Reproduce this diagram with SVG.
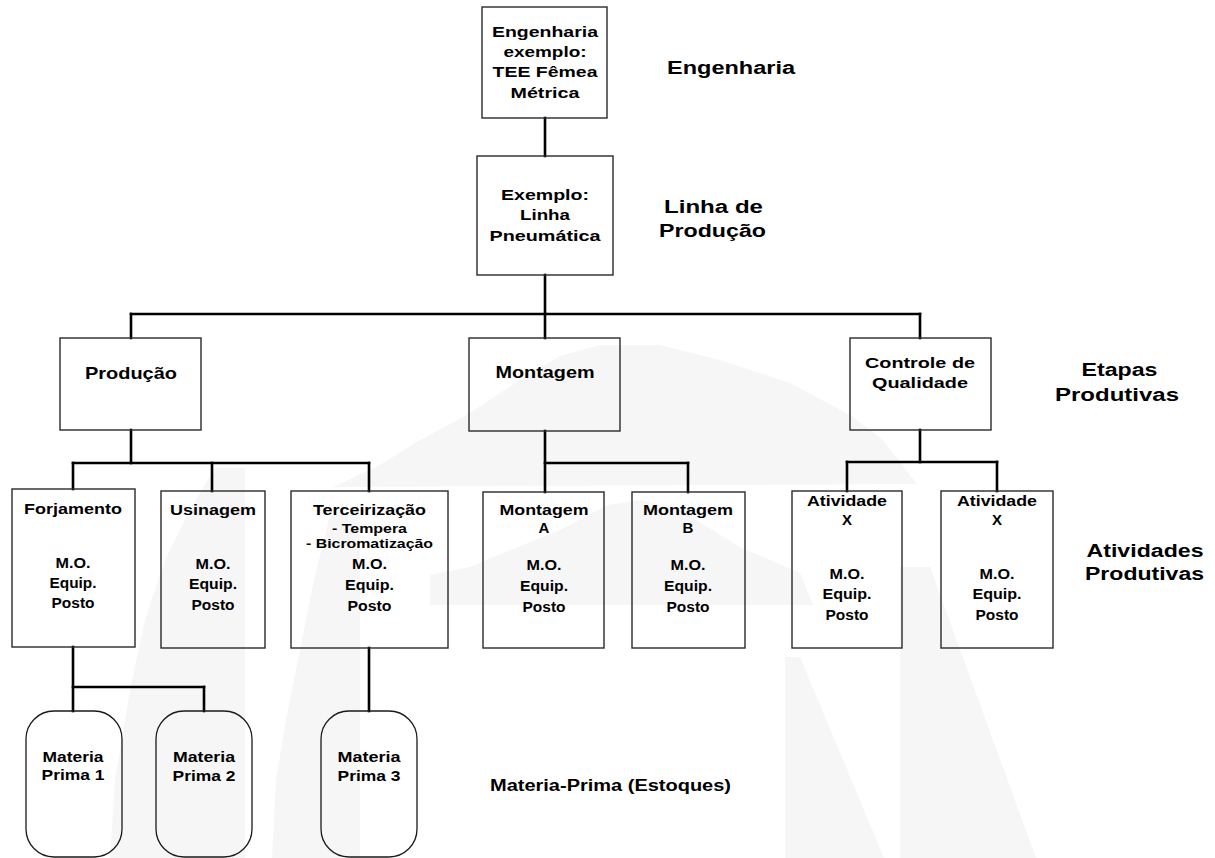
<svg xmlns="http://www.w3.org/2000/svg" width="1215" height="858" viewBox="0 0 1215 858">
<style>
.bg{fill:#ffffff}
.wm{fill:#f6f6f7;stroke:none}
.box{fill:none;stroke:#2a2a2a;stroke-width:1.4}
.tank{fill:none;stroke:#1a1a1a;stroke-width:1.3}
.conn{fill:none;stroke:#000000;stroke-width:2.6;stroke-linecap:square}
text{font-family:"Liberation Sans",Arial,sans-serif;font-weight:bold;fill:#000000;text-anchor:middle}
.t15{font-size:15px}
.t14{font-size:14px}
.t13{font-size:13.5px}
.t17{font-size:17px}
.lab{font-size:18px}
</style>
<rect class="bg" x="0" y="0" width="1215" height="858"/>
<g id="watermark">
<polygon class="wm" points="333,487 380,465 420,440 467,415 520,380 560,356 600,345 660,345 720,360 790,383 850,415 883,440 917,484 917,484 333,487"/>
<polygon class="wm" points="430,605 430,575 470,567 503,553 560,530 607,505 640,500 680,510 740,547 800,573 813,605"/>
<polygon class="wm" points="245,468 215,468 190,510 165,560 145,620 130,690 115,780 110,858 245,858"/>
<polygon class="wm" points="330,515 360,515 360,858 272,858 276,780 286,720 300,650 314,580"/>
<polygon class="wm" points="785,657 800,657 884,858 785,858"/>
<polygon class="wm" points="900,567 930,567 1036,858 900,858"/>
</g>
<g id="connectors">
<line class="conn" x1="545" y1="118" x2="545" y2="156"/>
<line class="conn" x1="545" y1="275" x2="545" y2="314"/>
<line class="conn" x1="131" y1="314" x2="920" y2="314"/>
<line class="conn" x1="131" y1="314" x2="131" y2="338"/>
<line class="conn" x1="545" y1="314" x2="545" y2="338"/>
<line class="conn" x1="920" y1="314" x2="920" y2="338"/>
<line class="conn" x1="131" y1="430" x2="131" y2="463"/>
<line class="conn" x1="73" y1="463" x2="369" y2="463"/>
<line class="conn" x1="73" y1="463" x2="73" y2="489"/>
<line class="conn" x1="212" y1="463" x2="212" y2="491"/>
<line class="conn" x1="369" y1="463" x2="369" y2="491"/>
<line class="conn" x1="545" y1="431" x2="545" y2="492"/>
<line class="conn" x1="545" y1="463" x2="688" y2="463"/>
<line class="conn" x1="688" y1="463" x2="688" y2="492"/>
<line class="conn" x1="920" y1="430" x2="920" y2="462"/>
<line class="conn" x1="847" y1="462" x2="997" y2="462"/>
<line class="conn" x1="847" y1="462" x2="847" y2="491"/>
<line class="conn" x1="997" y1="462" x2="997" y2="491"/>
<line class="conn" x1="73" y1="647" x2="73" y2="711"/>
<line class="conn" x1="73" y1="687" x2="204" y2="687"/>
<line class="conn" x1="204" y1="687" x2="204" y2="711"/>
<line class="conn" x1="369" y1="648" x2="369" y2="711"/>
</g>
<g id="engenharia">
<rect class="box" x="482" y="7" width="125" height="111"/>
<text class="t15" x="545" y="37" textLength="106" lengthAdjust="spacingAndGlyphs">Engenharia</text>
<text class="t15" x="545" y="57" textLength="83" lengthAdjust="spacingAndGlyphs">exemplo:</text>
<text class="t15" x="545" y="77" textLength="105" lengthAdjust="spacingAndGlyphs">TEE Fêmea</text>
<text class="t15" x="545" y="98" textLength="69" lengthAdjust="spacingAndGlyphs">Métrica</text>
</g>
<g id="linha">
<rect class="box" x="477" y="156" width="136" height="119"/>
<text class="t15" x="545" y="200" textLength="88" lengthAdjust="spacingAndGlyphs">Exemplo:</text>
<text class="t15" x="545" y="220" textLength="50" lengthAdjust="spacingAndGlyphs">Linha</text>
<text class="t15" x="545" y="241" textLength="111" lengthAdjust="spacingAndGlyphs">Pneumática</text>
</g>
<g id="producao">
<rect class="box" x="60" y="338" width="141" height="92"/>
<text class="t17" x="131" y="379" textLength="92" lengthAdjust="spacingAndGlyphs">Produção</text>
</g>
<g id="montagem">
<rect class="box" x="469" y="338" width="151" height="93"/>
<text class="t17" x="545" y="378" textLength="99" lengthAdjust="spacingAndGlyphs">Montagem</text>
</g>
<g id="controle">
<rect class="box" x="850" y="338" width="141" height="92"/>
<text class="t15" x="920" y="368" textLength="110" lengthAdjust="spacingAndGlyphs">Controle de</text>
<text class="t15" x="920" y="388" textLength="96" lengthAdjust="spacingAndGlyphs">Qualidade</text>
</g>
<g id="forjamento">
<rect class="box" x="12" y="489" width="123" height="158"/>
<text class="t15" x="73" y="514" textLength="98" lengthAdjust="spacingAndGlyphs">Forjamento</text>
<text class="t14" x="73" y="568" textLength="35" lengthAdjust="spacingAndGlyphs">M.O.</text>
<text class="t14" x="73" y="588" textLength="47" lengthAdjust="spacingAndGlyphs">Equip.</text>
<text class="t14" x="73" y="608" textLength="43" lengthAdjust="spacingAndGlyphs">Posto</text>
</g>
<g id="usinagem">
<rect class="box" x="161" y="491" width="104" height="157"/>
<text class="t15" x="213" y="515" textLength="86" lengthAdjust="spacingAndGlyphs">Usinagem</text>
<text class="t14" x="213" y="569" textLength="35" lengthAdjust="spacingAndGlyphs">M.O.</text>
<text class="t14" x="213" y="589" textLength="48" lengthAdjust="spacingAndGlyphs">Equip.</text>
<text class="t14" x="213" y="610" textLength="43" lengthAdjust="spacingAndGlyphs">Posto</text>
</g>
<g id="terceirizacao">
<rect class="box" x="291" y="491" width="157" height="157"/>
<text class="t15" x="369.5" y="515" textLength="113" lengthAdjust="spacingAndGlyphs">Terceirização</text>
<text class="t13" x="369.5" y="533" textLength="75" lengthAdjust="spacingAndGlyphs">- Tempera</text>
<text class="t13" x="369.5" y="548" textLength="127" lengthAdjust="spacingAndGlyphs">- Bicromatização</text>
<text class="t14" x="369.5" y="569" textLength="35" lengthAdjust="spacingAndGlyphs">M.O.</text>
<text class="t14" x="369.5" y="590" textLength="49" lengthAdjust="spacingAndGlyphs">Equip.</text>
<text class="t14" x="369.5" y="611" textLength="44" lengthAdjust="spacingAndGlyphs">Posto</text>
</g>
<g id="montagemA">
<rect class="box" x="483" y="492" width="121" height="156"/>
<text class="t15" x="544" y="515" textLength="89" lengthAdjust="spacingAndGlyphs">Montagem</text>
<text class="t15" x="544" y="533">A</text>
<text class="t14" x="544" y="570" textLength="35" lengthAdjust="spacingAndGlyphs">M.O.</text>
<text class="t14" x="544" y="591" textLength="48" lengthAdjust="spacingAndGlyphs">Equip.</text>
<text class="t14" x="544" y="612" textLength="43" lengthAdjust="spacingAndGlyphs">Posto</text>
</g>
<g id="montagemB">
<rect class="box" x="632" y="492" width="113" height="156"/>
<text class="t15" x="688" y="515" textLength="90" lengthAdjust="spacingAndGlyphs">Montagem</text>
<text class="t15" x="688" y="533">B</text>
<text class="t14" x="688" y="570" textLength="35" lengthAdjust="spacingAndGlyphs">M.O.</text>
<text class="t14" x="688" y="591" textLength="48" lengthAdjust="spacingAndGlyphs">Equip.</text>
<text class="t14" x="688" y="612" textLength="43" lengthAdjust="spacingAndGlyphs">Posto</text>
</g>
<g id="atividade1">
<rect class="box" x="792" y="491" width="110" height="157"/>
<text class="t15" x="847" y="506" textLength="80" lengthAdjust="spacingAndGlyphs">Atividade</text>
<text class="t15" x="847" y="525">X</text>
<text class="t14" x="847" y="579" textLength="35" lengthAdjust="spacingAndGlyphs">M.O.</text>
<text class="t14" x="847" y="599" textLength="49" lengthAdjust="spacingAndGlyphs">Equip.</text>
<text class="t14" x="847" y="620" textLength="43" lengthAdjust="spacingAndGlyphs">Posto</text>
</g>
<g id="atividade2">
<rect class="box" x="941" y="491" width="112" height="157"/>
<text class="t15" x="997" y="506" textLength="80" lengthAdjust="spacingAndGlyphs">Atividade</text>
<text class="t15" x="997" y="525">X</text>
<text class="t14" x="997" y="579" textLength="35" lengthAdjust="spacingAndGlyphs">M.O.</text>
<text class="t14" x="997" y="599" textLength="49" lengthAdjust="spacingAndGlyphs">Equip.</text>
<text class="t14" x="997" y="620" textLength="43" lengthAdjust="spacingAndGlyphs">Posto</text>
</g>
<g id="mp1">
<rect class="tank" x="26" y="711" width="96" height="146" rx="28" ry="28"/>
<text class="t15" x="73" y="762" textLength="61" lengthAdjust="spacingAndGlyphs">Materia</text>
<text class="t15" x="73" y="780" textLength="63" lengthAdjust="spacingAndGlyphs">Prima 1</text>
</g>
<g id="mp2">
<rect class="tank" x="156" y="711" width="96" height="146" rx="28" ry="28"/>
<text class="t15" x="204" y="762" textLength="62" lengthAdjust="spacingAndGlyphs">Materia</text>
<text class="t15" x="204" y="781" textLength="63" lengthAdjust="spacingAndGlyphs">Prima 2</text>
</g>
<g id="mp3">
<rect class="tank" x="321" y="711" width="96" height="146" rx="28" ry="28"/>
<text class="t15" x="369" y="762" textLength="63" lengthAdjust="spacingAndGlyphs">Materia</text>
<text class="t15" x="369" y="781" textLength="63" lengthAdjust="spacingAndGlyphs">Prima 3</text>
</g>
<g id="labels">
<text class="lab" x="731" y="74" textLength="128" lengthAdjust="spacingAndGlyphs">Engenharia</text>
<text class="lab" x="713.5" y="213" textLength="99" lengthAdjust="spacingAndGlyphs">Linha de</text>
<text class="lab" x="712.5" y="237" textLength="107" lengthAdjust="spacingAndGlyphs">Produção</text>
<text class="lab" x="1119.5" y="376" textLength="76" lengthAdjust="spacingAndGlyphs">Etapas</text>
<text class="lab" x="1117" y="401" textLength="124" lengthAdjust="spacingAndGlyphs">Produtivas</text>
<text class="lab" x="1145" y="557" textLength="117" lengthAdjust="spacingAndGlyphs">Atividades</text>
<text class="lab" x="1144.5" y="580" textLength="119" lengthAdjust="spacingAndGlyphs">Produtivas</text>
<text class="t15" style="font-size:16px" x="610.5" y="791" textLength="241" lengthAdjust="spacingAndGlyphs">Materia-Prima (Estoques)</text>
</g>
</svg>
